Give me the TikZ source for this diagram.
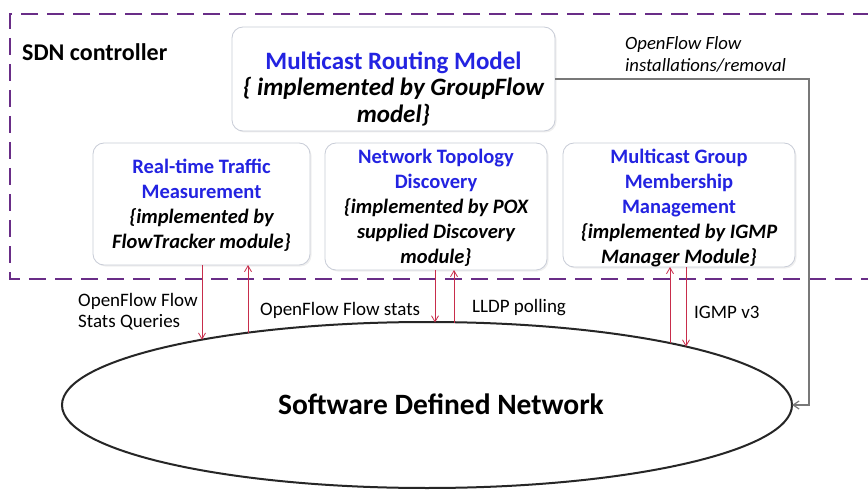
\documentclass[tikz,border=0pt]{standalone}
\usepackage{fontspec}
\setmainfont{Carlito}
\usetikzlibrary{shapes.geometric,arrows.meta,shadows}
\definecolor{ctrlpurple}{RGB}{105,45,135}
\definecolor{titleblue}{RGB}{35,35,225}
\definecolor{linkred}{RGB}{200,45,75}
\definecolor{boxedge}{RGB}{200,204,215}
\definecolor{retgray}{RGB}{120,120,120}
\tikzset{
  modbox/.style={draw=boxedge, line width=0.8pt, rounded corners=11pt, fill=white,
    inner sep=0pt, outer sep=0pt,
    drop shadow={opacity=0.12, shadow xshift=1.5pt, shadow yshift=-1.5pt}},
  modtext/.style={align=center, font=\fontsize{20.5}{25}\selectfont, inner sep=0pt},
  lbl/.style={align=left, font=\fontsize{19}{21}\selectfont, inner sep=0pt},
  redarr/.style={draw=linkred, line width=0.8pt, -{Straight Barb[length=6pt,width=7pt]}},
}
\newcommand{\ttl}[1]{\textcolor{titleblue}{\bfseries #1}}
\begin{document}
\begin{tikzpicture}[x=1pt, y=-1pt]
\useasboundingbox (0,0) rectangle (868,492);
\fill[white] (0,0) rectangle (868,492);

% controller boundary (open on the right edge)
\draw[ctrlpurple, line width=2.4pt, dash pattern=on 17pt off 9pt]
  (870,14) -- (10,14) -- (10,279) -- (870,279);
\node[anchor=west, font=\fontsize{24}{26}\selectfont\bfseries, inner sep=0pt] (ctrl) at (22,52) {SDN controller};

% controller modules
\node[modbox, minimum width=323, minimum height=104] (route) at (393.5,79) {};
\node[modtext, font=\fontsize{25}{26.5}\selectfont] (routet) at (393.5,89)
  {\ttl{Multicast Routing Model}\\ \bfseries\itshape \{ implemented by GroupFlow\\ \bfseries\itshape model\}};

\node[modbox, minimum width=217, minimum height=122] (meas) at (201.5,204) {};
\node[modtext] (meast) at (201.5,205.5)
  {\ttl{Real-time Traffic}\\ \ttl{Measurement}\\ \bfseries\itshape \{implemented by\\ \bfseries\itshape FlowTracker module\}};

\node[modbox, minimum width=222, minimum height=127] (topo) at (436,206.5) {};
\node[modtext] (topot) at (436,208)
  {\ttl{Network Topology}\\ \ttl{Discovery}\\ \bfseries\itshape \{implemented by POX\\ \bfseries\itshape supplied Discovery\\ \bfseries\itshape module\}};

\node[modbox, minimum width=232, minimum height=124] (igmp) at (679,205) {};
\node[modtext] (igmpt) at (679,208)
  {\ttl{Multicast Group}\\ \ttl{Membership}\\ \ttl{Management}\\ \bfseries\itshape \{implemented by IGMP\\ \bfseries\itshape Manager Module\}};

% the network
\node[ellipse, draw=black!85, line width=2pt, minimum width=730, minimum height=166,
  inner sep=0pt, outer sep=0pt] (sdn) at (427,405) {};
\node[font=\fontsize{29.5}{32}\selectfont\bfseries, inner sep=0pt] (sdnt) at (441,404) {Software Defined Network};

% points where the links meet the network
\coordinate (e1) at (202,339.7);
\coordinate (e2) at (248,332.6);
\coordinate (e3) at (435,322.5);
\coordinate (e4) at (454,322.5);
\coordinate (e5) at (670,343);
\coordinate (e6) at (686,346.6);
\coordinate (bend) at (809,79);

% module <-> network links
\draw[redarr] (meas.south -| e1) -- (e1);
\draw[redarr] (e2) -- (meas.south -| e2);
\draw[redarr] (topo.south -| e3) -- (e3);
\draw[redarr] (e4) -- (topo.south -| e4);
\draw[redarr] (e5) -- (igmp.south -| e5);
\draw[redarr] (igmp.south -| e6) -- (e6);

% flow installation path
\draw[retgray, line width=1.2pt, -{Straight Barb[length=6pt,width=8pt]}]
  (route.east |- bend) -- (bend) |- (sdn.east);

% link labels
\node[lbl, anchor=west, font=\fontsize{18.7}{22}\selectfont\itshape] (instl) at (625,54)
  {OpenFlow Flow\\installations/removal};
\node[lbl, anchor=west] (qlbl) at (78,312) {OpenFlow Flow\\Stats Queries};
\node[lbl, anchor=west] (slbl) at (260,310) {OpenFlow Flow stats};
\node[lbl, anchor=west] (llbl) at (472,308) {LLDP polling};
\node[lbl, anchor=west] (glbl) at (694,312) {IGMP v3};
\end{tikzpicture}
\end{document}
